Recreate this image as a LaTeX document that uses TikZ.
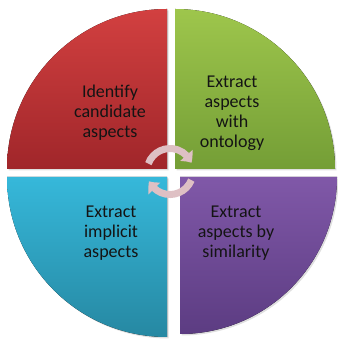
\documentclass[tikz,border=0pt]{standalone}
\usepackage{fontspec}
\setmainfont{Carlito}
\usetikzlibrary{shadows,arrows.meta,bending}
\definecolor{redtop}{RGB}{210,64,64}
\definecolor{redbot}{RGB}{160,38,42}
\definecolor{greentop}{RGB}{158,198,76}
\definecolor{greenbot}{RGB}{116,158,54}
\definecolor{bluetop}{RGB}{54,184,218}
\definecolor{bluebot}{RGB}{38,136,162}
\definecolor{purpletop}{RGB}{128,88,168}
\definecolor{purplebot}{RGB}{92,60,130}
\definecolor{rosearrow}{RGB}{222,192,196}
\definecolor{labeltext}{RGB}{20,20,20}

\tikzset{
  quarter/.style={shading=axis, drop shadow={opacity=0.25, shadow xshift=1.5pt, shadow yshift=-1.5pt}},
  quarterlabel/.style={align=center, text=labeltext, font=\fontsize{18}{20}\selectfont},
  cyclearrow/.style={line width=7pt, rosearrow, -{Triangle[width=16pt, length=9pt, bend]}}
}

\begin{document}
\begin{tikzpicture}[x=1pt, y=1pt]
  \useasboundingbox (0,0) rectangle (337,339);
\fill[
  quarter,
  top color=redtop,
  bottom color=redbot
  ]
  (167,170) -- ++(0,160) arc (90:180:160) -- cycle;
\fill[
  quarter,
  top color=greentop,
  bottom color=greenbot
  ]
  (175,170) -- ++(160,0) arc (0:90:160) -- cycle;
\fill[
  quarter,
  top color=bluetop,
  bottom color=bluebot
  ]
  (167,162) -- ++(-160,0) arc (180:270:160) -- cycle;
\fill[
  quarter,
  top color=purpletop,
  bottom color=purplebot
  ]
  (180,162) -- ++(0,-157) arc (270:360:157) -- cycle;
  \node[quarterlabel] (identify) at (110,226) {Identify\\candidate\\aspects};
  \node[quarterlabel] (ontology) at (232,226) {Extract\\aspects\\with\\ontology};
  \node[quarterlabel] (implicit) at (111,106) {Extract\\implicit\\aspects};
  \node[quarterlabel] (similarity) at (236,106) {Extract\\aspects by\\similarity};
  \coordinate (hub) at (170,167.5);
  \draw[cyclearrow] (hub) ++(160:23) arc (160:22:23);
  \draw[cyclearrow] (hub) ++(-22:23) arc (-22:-155:23);
\end{tikzpicture}
\end{document}
